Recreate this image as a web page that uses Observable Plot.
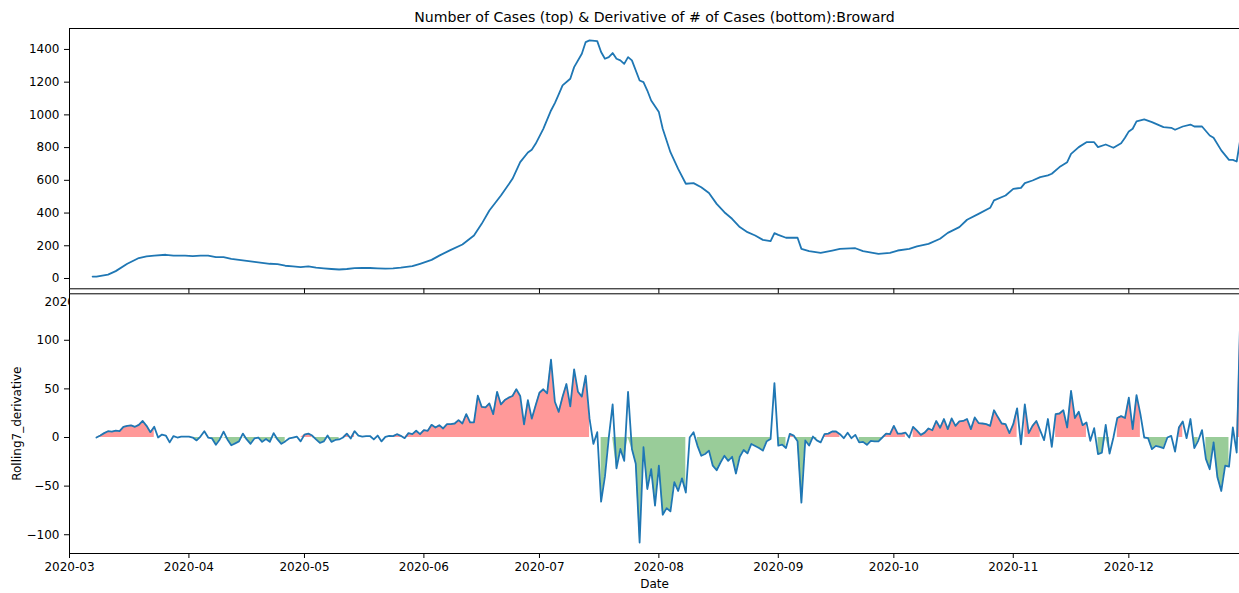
<!DOCTYPE html>
<html><head><meta charset="utf-8">
<script src="https://cdn.jsdelivr.net/npm/d3@7"></script>
<script src="https://cdn.jsdelivr.net/npm/@observablehq/plot@0.6"></script>
<style>
html,body{margin:0;padding:0;background:#fff;overflow:hidden;}
#chart{position:relative;width:1239px;height:593px;}
#chart svg{position:absolute;left:0;top:0;}
</style></head><body><div id="chart"></div>
<script>
// ---------- data ----------
const titleText = "Number of Cases (top) & Derivative of # of Cases (bottom):Broward";
const yLabelText = "Rolling7_derivative";
const xLabelText = "Date";

const monthTicks = ["2020-03-01","2020-04-01","2020-05-01","2020-06-01","2020-07-01","2020-08-01","2020-09-01","2020-10-01","2020-11-01","2020-12-01"];
const xRange = ["2020-03-01T00:00Z","2020-12-29T17:30Z"];
const caseTicks = [0,200,400,600,800,1000,1200,1400];
const derivTicks = [-100,-50,0,50,100];

// top: cases, day offsets from 2020-03-07
const casesStart = "2020-03-07";
const caseDays = [0,1,4,6,9,12,14,16,19,21,24,26,28,30,32,34,36,38,40,42,44,46,48,50,52,54,56,58,60,62,64,66,68,70,72,74,76,78,80,83,85,88,90,93,96,99,101,103,106,109,111,113,114,115,117,119,120,121,122,124,125,127,128,129,131,132,133,134,135,136,137,138,139,140,142,143,144,145,147,148,150,152,154,156,158,160,162,164,166,168,170,172,174,176,177,178,180,183,184,186,189,192,194,198,200,204,207,209,212,214,217,220,222,225,227,230,233,234,237,239,241,242,244,246,248,249,251,253,254,256,258,260,261,263,265,267,268,269,270,271,273,275,278,280,281,283,285,286,288,290,291,293,295,296,297,298];
const cases = [12,12,24,45,90,125,135,140,145,140,140,137,140,140,130,130,120,114,108,102,96,90,88,78,74,70,74,66,62,58,55,58,63,65,64,62,60,62,66,75,90,114,140,175,208,263,334,416,507,609,711,770,787,823,915,1027,1072,1125,1180,1221,1292,1374,1445,1455,1451,1384,1343,1353,1378,1343,1333,1312,1353,1333,1210,1200,1149,1088,1017,915,772,670,579,583,558,522,456,405,365,314,283,263,236,228,277,267,249,249,181,167,157,171,181,185,167,151,157,171,181,196,212,243,279,314,359,395,432,477,507,548,554,583,599,620,630,640,681,711,762,803,833,833,803,819,799,827,860,899,915,960,972,956,925,921,909,929,941,929,929,874,860,783,725,725,715,860];

// bottom: daily rolling-7 derivative, starting 2020-03-08
const derivStart = "2020-03-08";
const derivative = [
0,2,4.5,6.5,6,7,6.5,11,12,12.5,
11,13,17,12,5.5,11,0,3,2,-5,
1.5,0,1,1,1,0,-3,1,6.5,0,
-1,-7.5,-2,6,-2,-8,-6,-4,4,-2,
-6.5,-1,0,-4.5,-1.5,-4.5,4.5,-2,-6.5,-4,
-1,0,1,-4,3,4,2,-2,-5.5,-4,
2,-4.5,-2.5,-2,0,4,-1,6.5,2,1,
1.5,1.5,-2,2,-4,
0.7,1.7,1.4,3.4,1.7,-0.7,4.5,3.4,6.9,3.4,
7.6,6.9,13,10.3,12.7,9.3,13.7,13.7,14.4,17.9,
14.4,24,15.5,15.5,43,31.6,31,35,24,47,
34,38.5,41,42.7,49.6,42.7,13.5,38.5,19.4,33,
46,49.6,45.5,80,36.8,26.4,42,55,32,70,
47,42,63.5,19.4,-6.6,5.5,-66,-40,0,34,
-31.6,-11.8,-24,47,-11.8,-27,-108,-10,-53,-32.6,
-70,-29,-79.5,-72.6,-76,-45.8,-55,-42,-56.6,0,
5.5,-8.3,-18.8,-17,-13.5,-29,-33.7,-25.7,-18.8,-24,
-19.8,-37,-19.8,-12.8,-16.3,-6.6,-8.7,-10.8,-13.5,-3.8,
-1.4,56,-8.3,-7.3,-10.8,3.8,2,-3.8,-67,-3,
-8.3,1,-3,-5,3.4,4,6.2,6.2,3.4,-0.7,
5,-0.7,2.7,-5,-4.5,-7.5,-3.4,-4,-4,0,
4,3.4,12,4,4,5,0,11,7,2.7,
5,9.3,7.5,17,10,19,8.6,19.6,12,16.5,
17,19,8.6,20.6,14.8,14.4,13.7,12,28,21,
14.4,13.7,4.5,13.7,30,-7,34,4.5,12,17,
7,-2.7,19,-9.6,24,24.7,28,10.3,48,20,
26.5,12.7,15.5,-3.4,9.6,-17,-15.5,13,-16.5,0,
20,22,20,41,8.6,43.6,24,0,-0.7,-12,
-8.6,-9.6,-11,0,1.7,-14.4,10.3,16.5,-0.7,19,
-11,-3.4,7.6,-22,-32.6,-5,-41,-55,-29,-30,
10.3,-15.5,136];

// shaded spans (index ranges into derivative)
const redSpans = [[0,15],[53,56],[64,67],[76,128],[180,181],[189,193],[204,210],[212,239],[241,245],[249,257],[265,271],[281,282],[296,297]];
const greenSpans = [[25,49],[56,63],[131,153],[156,175],[177,179],[181,187],[198,204],[260,263],[273,279],[285,286],[288,294]];

// ---------- build ----------
const day0Cases = new Date(casesStart);
const day0Deriv = new Date(derivStart);
const caseRows = caseDays.map((d, k) => ({date: d3.utcDay.offset(day0Cases, d), v: cases[k]}));
const derivRows = derivative.map((v, j) => ({date: d3.utcDay.offset(day0Deriv, j), v}));
function spanRows(spans, positive) {
  return spans.flatMap(([a, b], r) => d3.range(a, b + 1).map(j => ({
    date: derivRows[j].date,
    v: positive ? Math.max(0, derivative[j]) : Math.min(0, derivative[j]),
    r
  })));
}
const xDomain = xRange.map(s => new Date(s));
const xTicks = monthTicks.map(s => new Date(s));
const fmt = d3.utcFormat("%Y-%m");
const yFmt = d3.format("d");
const blue = "#1f77b4";
const svgStyle = {fontFamily: "'DejaVu Sans', sans-serif", fontSize: "12px", color: "black", background: "transparent", overflow: "hidden"};

const topDomain = [-63, 1528];
const botDomain = [-119.3, 147.8];

const topPlot = Plot.plot({
  width: 1239, height: 593,
  marginTop: 28, marginBottom: 304.7, marginLeft: 69, marginRight: 0,
  style: svgStyle,
  x: {type: "utc", domain: xDomain, ticks: xTicks, tickFormat: fmt, tickSize: 5, tickPadding: 4, label: null},
  y: {domain: topDomain, ticks: caseTicks, tickFormat: yFmt, tickSize: 5, tickPadding: 5, label: null},
  marks: [
    Plot.ruleX([xDomain[0]], {stroke: "black", strokeWidth: 1}),
    Plot.ruleY(topDomain, {stroke: "black", strokeWidth: 1}),
    Plot.lineY(caseRows, {x: "date", y: "v", stroke: blue, strokeWidth: 1.8, clip: true}),
    Plot.text([titleText], {text: d => d, frameAnchor: "top", dy: -11, lineAnchor: "middle", textAnchor: "middle", fontSize: 14.1, fill: "black"})
  ]
});

const botPlot = Plot.plot({
  width: 1239, height: 593,
  marginTop: 293.3, marginBottom: 40, marginLeft: 69, marginRight: 0,
  style: svgStyle,
  x: {type: "utc", domain: xDomain, ticks: xTicks, tickFormat: fmt, tickSize: 5, tickPadding: 4, label: null},
  y: {domain: botDomain, ticks: derivTicks, tickFormat: yFmt, tickSize: 5, tickPadding: 5, label: null},
  marks: [
    Plot.frame({fill: "white", stroke: "none"}),
    Plot.areaY(spanRows(redSpans, true), {x: "date", y1: 0, y2: "v", z: "r", fill: "red", fillOpacity: 0.4, clip: true}),
    Plot.areaY(spanRows(greenSpans, false), {x: "date", y1: 0, y2: "v", z: "r", fill: "green", fillOpacity: 0.4, clip: true}),
    Plot.lineY(derivRows, {x: "date", y: "v", stroke: blue, strokeWidth: 1.8, clip: true}),
    Plot.ruleX([xDomain[0]], {stroke: "black", strokeWidth: 1}),
    Plot.ruleY(botDomain, {stroke: "black", strokeWidth: 1}),
    Plot.text([yLabelText], {text: d => d, frameAnchor: "left", dx: -52, rotate: -90, lineAnchor: "middle", textAnchor: "middle", fontSize: 12, fill: "black"}),
    Plot.text([xLabelText], {text: d => d, frameAnchor: "bottom", dy: 31, lineAnchor: "middle", textAnchor: "middle", fontSize: 12, fill: "black"})
  ]
});

const chart = document.getElementById("chart");
chart.appendChild(topPlot);
chart.appendChild(botPlot);
</script></body></html>
